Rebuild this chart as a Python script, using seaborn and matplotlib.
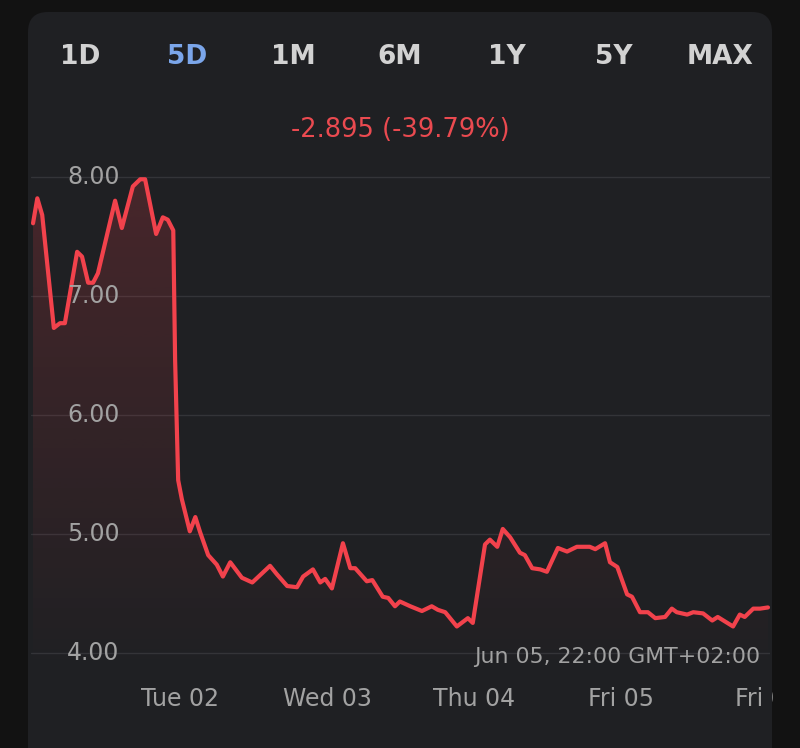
import numpy as np
import pandas as pd
import seaborn as sns
from matplotlib import pyplot as plt
from matplotlib.patches import FancyBboxPatch, Rectangle, Polygon
from matplotlib.colors import to_rgb

# hours since Mon 01 00:00 and the price
hours = [0.0, 0.7, 1.5, 3.4, 4.4, 5.2, 7.2, 8.0, 9.0, 9.8, 10.6, 13.4, 14.5,
         16.3, 17.5, 18.3, 20.1, 21.2, 22.0, 22.9, 23.2, 23.7, 24.3, 25.6,
         26.5, 27.3, 28.6, 30.0, 31.0, 32.2, 34.1, 35.8, 38.7, 39.8, 41.5,
         43.1, 44.1, 45.7, 46.9, 47.7, 48.8, 50.6, 51.8, 52.6, 54.5, 55.4,
         57.1, 58.0, 59.1, 59.9, 61.6, 63.5, 65.1, 66.1, 67.3, 69.2, 71.0,
         71.8, 73.8, 74.6, 75.8, 76.7, 77.9, 79.5, 80.3, 81.5, 82.8, 83.9,
         85.7, 87.2, 88.8, 90.9, 91.8, 93.4, 94.2, 95.4, 97.0, 97.8, 99.1,
         100.4, 101.6, 103.2, 104.3, 105.1, 106.8, 107.8, 109.4, 110.9,
         111.8, 114.3, 115.4, 116.2, 117.6, 118.7, 120.0]
prices = [7.61, 7.82, 7.68, 6.73, 6.77, 6.77, 7.37, 7.33, 7.11, 7.11, 7.19,
          7.80, 7.57, 7.92, 7.98, 7.98, 7.52, 7.66, 7.64, 7.55, 6.46, 5.45,
          5.29, 5.02, 5.14, 5.01, 4.82, 4.74, 4.64, 4.76, 4.63, 4.59, 4.73,
          4.66, 4.56, 4.55, 4.64, 4.70, 4.59, 4.62, 4.54, 4.92, 4.71, 4.71,
          4.60, 4.61, 4.47, 4.46, 4.39, 4.43, 4.39, 4.35, 4.39, 4.36, 4.34,
          4.22, 4.29, 4.25, 4.91, 4.95, 4.89, 5.04, 4.97, 4.84, 4.82, 4.71,
          4.70, 4.68, 4.88, 4.85, 4.89, 4.89, 4.87, 4.92, 4.76, 4.72, 4.49,
          4.47, 4.34, 4.34, 4.29, 4.30, 4.37, 4.34, 4.32, 4.34, 4.33, 4.27,
          4.30, 4.22, 4.32, 4.30, 4.37, 4.37, 4.38]

tabs = ['1D', '5D', '1M', '6M', '1Y', '5Y', 'MAX']
active_tab = '5D'
day_ticks = [24, 48, 72, 96, 120]
day_labels = ['Tue 02', 'Wed 03', 'Thu 04', 'Fri 05', 'Fri 06']
y_ticks = [4, 5, 6, 7, 8]
change_text = '-2.895 (-39.79%)'
stamp_text = 'Jun 05, 22:00 GMT+02:00'

bg_outer = '#121212'
panel_col = '#1f2023'
grid_col = '#333438'
red = '#f2424c'
red_text = '#ea4a50'
gray = '#a2a2a2'
tab_col = '#d2d2d2'
blue = '#7ba6ea'

sns.set_theme(style='dark')
plt.rcParams['font.family'] = ['DejaVu Sans']

W, H = 800, 748
fig = plt.figure(figsize=(W / 100, H / 100), dpi=100, facecolor=bg_outer)

# rounded card behind everything
panel = FancyBboxPatch((0.28, -0.3), 7.72 - 0.28, (H - 12) / 100 + 0.3,
                       boxstyle='round,pad=0,rounding_size=0.2',
                       transform=fig.dpi_scale_trans, facecolor=panel_col,
                       edgecolor='none', zorder=-5)
fig.add_artist(panel)

ax = fig.add_axes([31 / W, (H - 680) / H, (770 - 31) / W, (680 - 165) / H])
ax.set_facecolor('none')

df = pd.DataFrame({'hour': hours, 'price': prices})
y0, y1 = 3.77, 8.10

# gradient under the line
grad = np.zeros((200, 1, 4))
grad[..., :3] = to_rgb(red)
grad[..., 3] = np.linspace(0.2, 0.0, 200)[:, None]
im = ax.imshow(grad, aspect='auto', extent=[hours[0], hours[-1], y0, y1],
               origin='upper', zorder=1)
verts = [(hours[0], y0)] + list(zip(hours, prices)) + [(hours[-1], y0)]
clip = Polygon(verts, closed=True, transform=ax.transData,
               facecolor='none', edgecolor='none')
ax.add_patch(clip)
im.set_clip_path(clip)

sns.lineplot(data=df, x='hour', y='price', ax=ax, color=red, lw=3,
             zorder=3, solid_joinstyle='round')

for v in y_ticks:
    ax.axhline(v, color=grid_col, lw=1, zorder=0)
    ax.text(36 / (770 - 31), v, f'{v:.2f}', transform=ax.get_yaxis_transform(),
            ha='left', va='center', fontsize=17, color=gray, zorder=4)

ax.set_xlim(-0.33, 120.33)
ax.set_ylim(y0, y1)
ax.set_yticks([])
ax.set_xticks(day_ticks, day_labels)
ax.tick_params(axis='x', length=0, pad=5, labelsize=17, labelcolor=gray)
ax.set_xlabel('')
ax.set_ylabel('')
for s in ax.spines.values():
    s.set_visible(False)

# range tabs
for xc, t in zip(np.linspace(80, 720, len(tabs)), tabs):
    fig.text(xc / W, 1 - 57 / H, t, ha='center', va='center', fontsize=19,
             fontweight='bold', color=blue if t == active_tab else tab_col)

fig.text(400 / W, 1 - 130 / H, change_text, ha='center', va='center',
         fontsize=18.5, color=red_text)
fig.text(760 / W, 1 - 657 / H, stamp_text, ha='right', va='center',
         fontsize=15.8, color=gray)

# outer strip on the right hides the cut-off label
fig.add_artist(Rectangle((7.73, 0), 0.5, H / 100, transform=fig.dpi_scale_trans,
                         facecolor=bg_outer, edgecolor='none', zorder=10))

fig.savefig('out.png', dpi=100, facecolor=bg_outer)
